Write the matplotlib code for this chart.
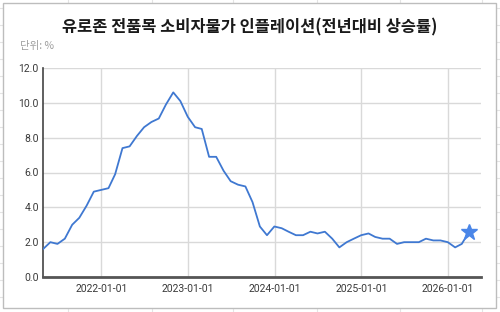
import matplotlib.pyplot as plt
import matplotlib.dates as mdates
from matplotlib.patches import Rectangle
from matplotlib.lines import Line2D
import pandas as pd

# Euro area HICP, year-over-year change (%), month-end dates
dates = pd.date_range("2021-04-30", "2026-03-31", freq="ME")
values = [
    1.6, 2.0, 1.9, 2.2, 3.0, 3.4, 4.1, 4.9, 5.0,
    5.1, 5.9, 7.4, 7.5, 8.1, 8.6, 8.9, 9.1, 9.9, 10.6, 10.1, 9.2,
    8.6, 8.5, 6.9, 6.9, 6.1, 5.5, 5.3, 5.2, 4.3, 2.9, 2.4, 2.9,
    2.8, 2.6, 2.4, 2.4, 2.6, 2.5, 2.6, 2.2, 1.7, 2.0, 2.2, 2.4,
    2.5, 2.3, 2.2, 2.2, 1.9, 2.0, 2.0, 2.0, 2.2, 2.1, 2.1, 2.0,
    1.7, 1.9, 2.6,
]
xtick_dates = pd.to_datetime(["2022-01-01", "2023-01-01", "2024-01-01",
                              "2025-01-01", "2026-01-01"])
yticks = [0, 2, 4, 6, 8, 10, 12]

title = "유로존 전품목 소비자물가 인플레이션(전년대비 상승률)"
unit = "단위: %"

W, H = 500, 312
fig = plt.figure(figsize=(W / 100, H / 100), dpi=100)

# spreadsheet background grid
for x in [68, 152, 233, 317, 400, 482]:
    fig.add_artist(Line2D([x / W, x / W], [0, 1], color="#e4e4e4", lw=0.8,
                          transform=fig.transFigure, zorder=0))
for y in range(8, H, 17):
    fig.add_artist(Line2D([0, 1], [1 - y / H, 1 - y / H], color="#e4e4e4", lw=0.8,
                          transform=fig.transFigure, zorder=0))
# card
fig.add_artist(Rectangle((3 / W, 1 - 308 / H), 493 / W, 305 / H, transform=fig.transFigure,
                         facecolor="white", edgecolor="#bdbdbd", lw=1.0, zorder=1))

ax = fig.add_axes([43 / W, 1 - 277 / H, 438 / W, 209 / H], zorder=2)
ax.set_facecolor("none")

ax.plot(dates, values, color="#3f78d1", lw=1.3, zorder=3)
ax.plot(dates[-1:], values[-1:], marker="*", ms=12, color="#4a86e8", lw=0, zorder=4)

ax.set_ylim(0, 12)
ax.set_yticks(yticks)
ax.yaxis.set_major_formatter(plt.FuncFormatter(lambda v, p: f"{v:.1f}"))
ax.set_xlim(pd.Timestamp("2021-04-30"), pd.Timestamp("2026-05-20"))
ax.set_xticks(xtick_dates)
ax.xaxis.set_major_formatter(mdates.DateFormatter("%Y-%m-%d"))

ax.grid(True, color="#d9d9d9", lw=1.0)
ax.set_axisbelow(True)
for s in ["top", "right"]:
    ax.spines[s].set_visible(False)
ax.spines["left"].set_color("#444444")
ax.spines["left"].set_linewidth(1.2)
ax.spines["bottom"].set_color("#555555")
ax.spines["bottom"].set_linewidth(2.0)
ax.tick_params(length=0, labelsize=7.5, labelcolor="#3a3a3a")
ax.tick_params(axis="y", pad=3)
ax.tick_params(axis="x", pad=5)
for lab in ax.get_xticklabels() + ax.get_yticklabels():
    lab.set_fontfamily(["Roboto", "DejaVu Sans"])

fig.text(0.5, 1 - 27 / H, title, ha="center", va="center", fontsize=11.8,
         fontweight="bold", color="#1a1a1a", family=["Noto Sans CJK KR", "DejaVu Sans"])
fig.text(20 / W, 1 - 46 / H, unit, ha="left", va="center", fontsize=7.5,
         color="#9e9e9e", family=["Noto Sans CJK KR", "DejaVu Sans"])

fig.savefig("out.png", dpi=100)
